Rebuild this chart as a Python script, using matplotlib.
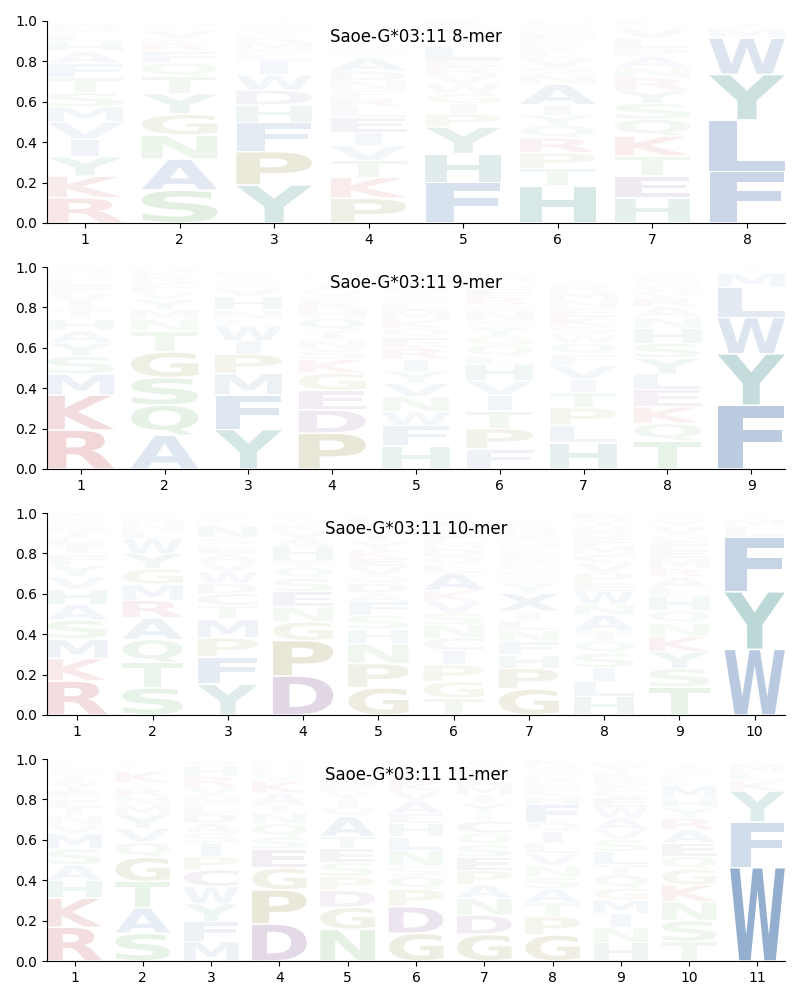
#!/usr/bin/env python
import matplotlib
matplotlib.use('Agg')
from matplotlib import pyplot as plt
from matplotlib.patches import PathPatch
from matplotlib.path import Path
from matplotlib.textpath import TextPath
from matplotlib.transforms import Affine2D
from matplotlib.font_manager import FontProperties

# letters are listed from the bottom of each stack to the top
Letters8 = ['RKYIVMSTFAHLNW', 'SANGYTQFRKVLH', 'YPFHDWILNMKVSA', 'PKTVIELRFNDAQS',
            'FHYPIGWVRELTQMK', 'HTPRQYIANSVLKFEMWG', 'HETKQSYRNAPLVMF', 'FLYWMIV']
Heights8 = [[.125, .107, .096, .087, .086, .074, .071, .073, .07, .058, .05, .04, .025, .03],
            [.163, .153, .119, .104, .102, .083, .069, .058, .038, .025, .04, .02, .02],
            [.188, .165, .145, .086, .074, .075, .07, .03, .025, .04, .03, .03, .02, .02],
            [.122, .104, .083, .074, .066, .073, .054, .04, .04, .05, .045, .066, .03, .02],
            [.2, .143, .132, .066, .05, .05, .05, .046, .036, .033, .066, .04, .03, .03, .028],
            [.183, .087, .078, .074, .06, .053, .05, .102, .05, .033, .046, .035, .03, .03, .025, .02, .02, .024],
            [.125, .107, .1, .099, .083, .078, .066, .061, .05, .055, .04, .05, .05, .02, .016],
            [.255, .255, .225, .18, .05, .02, .015]]

Letters9 = ['RKMSYAHTIVFLNQW', 'AQSGTNMYVFRKH', 'YFMPIWLNHVSAK', 'PDEGKSNTQHRFVIYM',
            'HFWNVYIREQKMLSTAD', 'FPTIVHLQGYSNARELMV', 'HLPTIVFQWSKENMRA', 'TQKELYSHNARVGMFI',
            'FYWLMIV']
Heights9 = [[.193, .173, .104, .089, .066, .059, .056, .046, .041, .045, .038, .033, .02, .02, .017],
            [.168, .148, .137, .127, .102, .058, .051, .048, .038, .041, .033, .03, .02],
            [.196, .17, .107, .096, .066, .073, .033, .046, .066, .041, .03, .03, .02],
            [.177, .116, .096, .086, .066, .05, .05, .046, .06, .04, .036, .03, .03, .03, .02, .015],
            [.114, .101, .069, .074, .066, .061, .059, .056, .051, .045, .04, .045, .045, .03, .03, .03, .03],
            [.099, .102, .086, .08, .07, .08, .04, .056, .046, .045, .03, .05, .03, .04, .04, .03, .03, .02],
            [.13, .087, .086, .076, .065, .07, .054, .054, .045, .04, .045, .043, .041, .04, .03, .02],
            [.139, .087, .083, .083, .079, .078, .074, .074, .054, .053, .041, .033, .03, .03, .025, .017],
            [.315, .255, .18, .15, .07, .015, .01]]

Letters10 = ['RKMSAHVYFILTNQGE', 'STQARMGYWLNHIK', 'YFPMTCDWVALSNQEK', 'DPGNESQTHAVKMLFI',
             'GPNHSFADQVEKYIMWL', 'TGPICNSVKALQDMFHEYR', 'GPHFNLIXYQSCREKMWDAV',
             'HLISQTANWEPVCMFDGYR', 'TSYKNQHLARMEFGVYIW', 'WYFLMIV']
Heights10 = [[.168, .112, .096, .094, .079, .074, .061, .058, .054, .045, .041, .033, .025, .025, .02, .015],
             [.135, .124, .115, .107, .087, .079, .078, .074, .074, .041, .033, .025, .02, .02],
             [.153, .135, .094, .092, .069, .058, .05, .058, .046, .045, .045, .033, .06, .02, .02, .02],
             [.193, .175, .094, .074, .074, .066, .053, .038, .066, .041, .04, .03, .02, .015, .015, .015],
             [.135, .12, .099, .071, .069, .066, .046, .045, .038, .048, .04, .04, .04, .035, .035, .03, .03],
             [.083, .083, .083, .071, .061, .066, .058, .058, .053, .087, .041, .041, .038, .036, .041, .03, .03, .02, .015],
             [.129, .102, .066, .066, .055, .05, .045, .09, .05, .03, .03, .03, .03, .03, .02, .03, .03, .03, .03, .03],
             [.091, .074, .069, .071, .061, .05, .079, .053, .066, .04, .05, .05, .041, .041, .041, .03, .03, .03, .03],
             [.137, .094, .083, .074, .066, .061, .071, .045, .054, .041, .05, .041, .045, .03, .041, .03, .02, .02],
             [.325, .285, .27, .053, .036, .015, .012]]

Letters11 = ['RKHASMVNTEFYIQGL', 'SATGQVYMNRIKLF', 'MFYWCPISADLNVRHQ', 'DPGESQNTAKVLHF',
             'NGDPSETAQIYFHRMK', 'GDPQSNLHEAVKRT', 'GDNAPESQCTYIMLRKV', 'GPTASNVLIQFHCERMWK',
             'HNIMGQTLSVAWECFRKYD', 'TSNKGQEARYHMLPVI', 'WFYKLMIV']
Heights11 = [[.167, .144, .088, .078, .078, .076, .045, .045, .046, .033, .041, .041, .033, .025, .02, .02],
             [.137, .127, .129, .121, .074, .069, .066, .05, .041, .041, .028, .055, .02, .02],
             [.096, .099, .088, .086, .083, .066, .066, .05, .05, .046, .045, .041, .046, .053, .05, .03],
             [.183, .169, .109, .093, .06, .066, .053, .041, .058, .058, .03, .03, .02, .02],
             [.157, .109, .083, .069, .071, .066, .061, .1, .05, .033, .038, .03, .03, .025, .02, .02],
             [.137, .132, .086, .065, .05, .078, .066, .066, .05, .063, .05, .04, .04, .03],
             [.132, .096, .083, .066, .071, .066, .061, .058, .061, .041, .046, .041, .05, .04, .03, .02, .02],
             [.129, .091, .069, .071, .055, .058, .058, .053, .058, .045, .088, .041, .033, .03, .03, .03, .03, .03],
             [.091, .074, .071, .066, .058, .066, .05, .066, .058, .05, .058, .055, .045, .038, .03, .03, .03, .03, .02],
             [.096, .104, .094, .083, .078, .063, .066, .066, .058, .05, .05, .06, .03, .03, .025, .02],
             [.462, .225, .155, .05, .045, .04, .012, .008]]

Titles = ['Saoe-G*03:11 8-mer', 'Saoe-G*03:11 9-mer', 'Saoe-G*03:11 10-mer', 'Saoe-G*03:11 11-mer']

Blue = '#5780b6'
Teal = '#43918d'
Red = '#c44e52'
Green = '#64b15e'
Tan = '#92893a'
Purple = '#7e4c8e'
Colors = {}
for c in 'AFILMVWX':
    Colors[c] = Blue
for c in 'HY':
    Colors[c] = Teal
for c in 'KR':
    Colors[c] = Red
for c in 'NQST':
    Colors[c] = Green
for c in 'GP':
    Colors[c] = Tan
for c in 'CDE':
    Colors[c] = Purple

Font = FontProperties(family='DejaVu Sans', weight='bold')
Width = 0.8
Glyphs = {}
for c in Colors:
    Glyphs[c] = TextPath((0, 0), c, size=1, prop=Font)
WidthE = Glyphs['E'].get_extents().width


def draw_letter(ax, c, x, y, h):
    # letters stretch to the column, but narrow ones no more than an E does
    glyph = Glyphs[c]
    box = glyph.get_extents()
    sx = min(Width / box.width, Width / WidthE)
    pad = min(0.004, h * 0.04)
    sy = (h - 2 * pad) / box.height
    tr = (Affine2D().translate(-box.x0 - box.width / 2, -box.y0)
          .scale(sx, sy).translate(x, y + pad))
    path = Path(tr.transform(glyph.vertices), glyph.codes)
    # small letters fade out faster than tall ones
    patch = PathPatch(path, facecolor=Colors[c], edgecolor='none', lw=0,
                      alpha=min(1.0, 1.6 * h ** 1.2))
    ax.add_patch(patch)


fig, axes = plt.subplots(4, 1, figsize=(8, 10), dpi=100)
fig.subplots_adjust(left=0.059, right=0.981, top=0.979, bottom=0.039, hspace=0.218)

AllLetters = [Letters8, Letters9, Letters10, Letters11]
AllHeights = [Heights8, Heights9, Heights10, Heights11]

for ax, letters, heights, title in zip(axes, AllLetters, AllHeights, Titles):
    n = len(letters)
    for i in range(n):
        y = 0.0
        for c, h in zip(letters[i], heights[i]):
            draw_letter(ax, c, i + 1, y, h)
            y += h
    ax.set_xlim(0.6, n + 0.4)
    ax.set_ylim(0, 1)
    ax.set_xticks(range(1, n + 1))
    ax.set_yticks([0, 0.2, 0.4, 0.6, 0.8, 1.0])
    ax.spines['top'].set_visible(False)
    ax.spines['right'].set_visible(False)
    ax.text(0.5, 0.895, title, transform=ax.transAxes, ha='center', va='baseline', fontsize=12)

plt.savefig('out.png', dpi=100)
